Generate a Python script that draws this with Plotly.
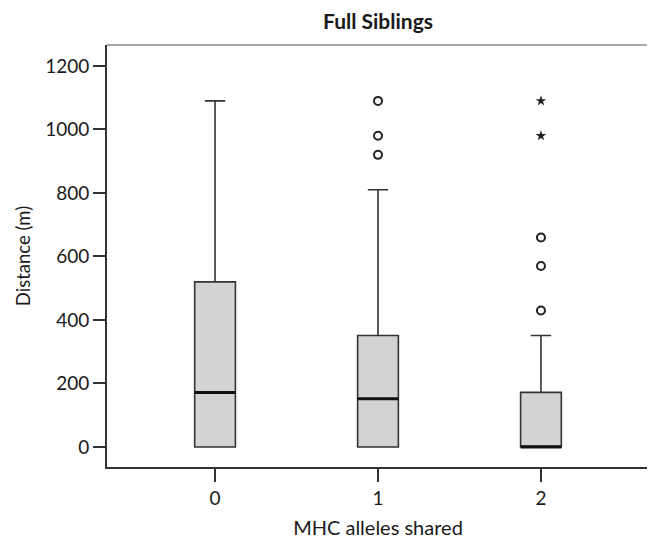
import plotly.graph_objects as go

categories = ["0", "1", "2"]
q1_vals = [0, 0, 0]
median_vals = [172, 152, 0]
q3_vals = [520, 351, 172]
lower_whisker = [0, 0, 0]
upper_whisker = [1090, 810, 351]
# outliers (circles) and extreme values (stars) per group
outlier_circles = [[], [1090, 980, 920], [660, 570, 430]]
extreme_stars = [[], [], [1090, 980]]

xpos = list(range(len(categories)))
BOX_W = 0.25
LINE = "#333333"

fig = go.Figure()
for i, cat in enumerate(categories):
    fig.add_trace(go.Box(
        x=[xpos[i]], q1=[q1_vals[i]], median=[median_vals[i]], q3=[q3_vals[i]],
        lowerfence=[lower_whisker[i]], upperfence=[upper_whisker[i]],
        boxpoints=False, width=BOX_W, whiskerwidth=0.5,
        fillcolor="#d3d3d3", line=dict(color=LINE, width=1.6),
        showlegend=False, hoverinfo="skip"))
    # thicker median line
    fig.add_trace(go.Box(
        x=[xpos[i]], q1=[median_vals[i]], median=[median_vals[i]], q3=[median_vals[i]],
        lowerfence=[median_vals[i]], upperfence=[median_vals[i]],
        boxpoints=False, width=BOX_W, whiskerwidth=0,
        fillcolor="#111111", line=dict(color="#111111", width=3),
        showlegend=False, hoverinfo="skip"))
    if outlier_circles[i]:
        fig.add_trace(go.Scatter(
            x=[xpos[i]] * len(outlier_circles[i]), y=outlier_circles[i], mode="markers",
            marker=dict(symbol="circle-open", size=8, color="#222222", line=dict(width=2)),
            showlegend=False, hoverinfo="skip"))
    if extreme_stars[i]:
        fig.add_trace(go.Scatter(
            x=[xpos[i]] * len(extreme_stars[i]), y=extreme_stars[i], mode="markers",
            marker=dict(symbol="star", size=8, color="#222222"),
            showlegend=False, hoverinfo="skip"))

FONT = "Lato"
TXT = "#1a1a1a"
BORDER = "#8a8a8a"
fig.update_layout(
    width=647, height=535,
    margin=dict(l=99, r=6, t=37, b=76),
    paper_bgcolor="white", plot_bgcolor="white",
    boxmode="overlay",
    font=dict(family=FONT, color=TXT, size=18),
    title=dict(text="<b>Full Siblings</b>", xref="paper", x=0.5, xanchor="center",
               yref="container", y=0.988, yanchor="top",
               font=dict(family=FONT, size=21, color=TXT)),
    shapes=[
        dict(type="line", xref="paper", yref="paper", x0=0, x1=1, y0=1, y1=1,
             line=dict(color=BORDER, width=1.6)),
        dict(type="line", xref="paper", yref="paper", x0=1, x1=1, y0=0, y1=1,
             line=dict(color=BORDER, width=1.6)),
    ],
)
fig.update_xaxes(
    range=[-0.663, 2.663], tickmode="array", tickvals=xpos, ticktext=categories,
    ticks="outside", ticklen=13, tickwidth=1.5, tickcolor=LINE,
    showline=True, linecolor=LINE, linewidth=1.8, mirror=False, showgrid=False, zeroline=False,
    title=dict(text="MHC alleles shared", font=dict(size=20, color=TXT), standoff=13),
    tickfont=dict(size=19, color=TXT))
fig.update_yaxes(
    range=[-63, 1266], tickmode="array", tickvals=[0, 200, 400, 600, 800, 1000, 1200],
    ticks="outside", ticklen=12, tickwidth=1.5, tickcolor=LINE,
    showline=True, linecolor=LINE, linewidth=1.8, mirror=False, showgrid=False, zeroline=False,
    title=dict(text="Distance (m)", font=dict(size=18.5, color=TXT), standoff=10),
    tickfont=dict(size=19, color=TXT))

fig.write_html("out.html")
